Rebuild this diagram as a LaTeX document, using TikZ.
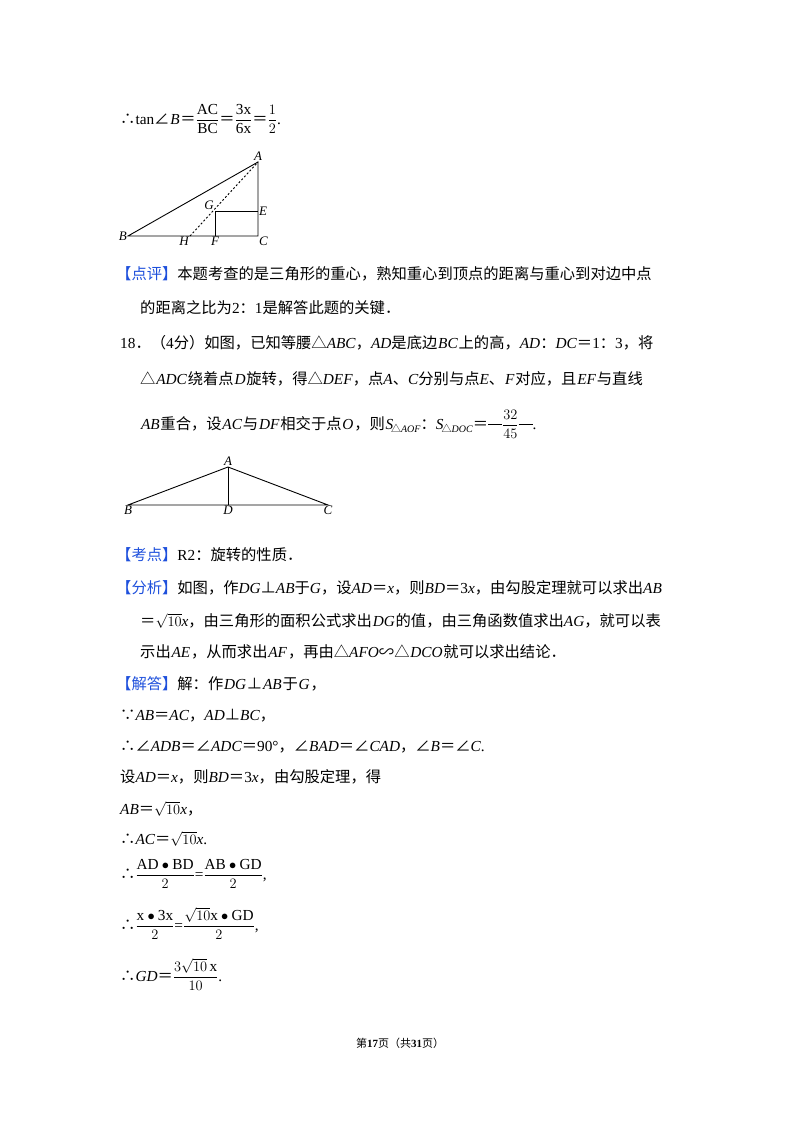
\documentclass[tikz,border=0pt]{standalone}
\usepackage{fontspec}
\setmainfont{Liberation Serif}
\newfontfamily\cjk{Noto Sans CJK SC}
\newcommand\zh[1]{{\cjk #1}}
\newcommand\vi[1]{\hspace{0.8pt}\textit{#1}\hspace{0.8pt}}
\newcommand\eq{{\cjk ＝}}
\newcommand\df[2]{$\displaystyle\frac{#1}{#2}$}
\definecolor{kblue}{RGB}{30,80,220}
\newcommand\tag[1]{{\cjk\color{kblue}【#1】}}
\tikzset{t/.style={anchor=base west,inner sep=0pt,font=\fontsize{15.3}{18}\selectfont},
 lab/.style={inner sep=1pt,font=\fontsize{13}{14}\selectfont\itshape},
 seg/.style={line width=0.9pt}}
\begin{document}
\begin{tikzpicture}[x=1pt,y=-1pt]
\useasboundingbox (0,0) rectangle (800,1132);
\node[t] (l1) at (120,124) {\zh{∴}tan\zh{∠}\vi{B}\eq\df{\mathrm{AC}}{\mathrm{BC}}\eq\df{\mathrm{3x}}{\mathrm{6x}}\eq\df{1}{2}.};
\coordinate (A) at (258,162); \coordinate (B) at (128,236); \coordinate (C) at (258,236);
\coordinate (G) at (215,211); \coordinate (E) at (258,211); \coordinate (F) at (215,236); \coordinate (H) at (190,236);
\draw[seg] (B)--(A)--(C)--cycle;
\draw[seg] (G)--(E); \draw[seg] (G)--(F);
\draw[seg,dash pattern=on 2pt off 2pt] (H)--(A);
\node[lab,above] (nA) at (A) {A}; \node[lab,left] (nB) at (B) {B};
\node[lab,below right] (nC) at (C) {C}; \node[lab,above left] (nG) at (G) {G};
\node[lab,right] (nE) at (E) {E}; \node[lab,below] (nF) at (F) {F}; \node[lab,below left] (nH) at (H) {H};
\node[t] (dp) at (116,279) {\tag{点评}\zh{本题考查的是三角形的重心，熟知重心到顶点的距离与重心到对边中点}};
\node[t] (dp2) at (140,313) {\zh{的距离之比为}2\zh{：}1\zh{是解答此题的关键．}};
\node[t] (q1) at (120,348) {18\zh{．（}4\zh{分）如图，已知等腰△}\textit{ABC}\zh{，}\textit{AD}\zh{是底边}\vi{BC}\zh{上的高，}\textit{AD}\zh{：}\textit{DC}\eq1\zh{：}3\zh{，将}};
\node[t] (q2) at (140,384) {\zh{△}\vi{ADC}\zh{绕着点}\vi{D}\zh{旋转，得△}\textit{DEF}\zh{，点}\textit{A}\zh{、}\textit{C}\zh{分别与点}\textit{E}\zh{、}\vi{F}\zh{对应，且}\vi{EF}\zh{与直线}};
\node[t] (q3) at (140,429) {\vi{AB}\zh{重合，设}\vi{AC}\zh{与}\vi{DF}\zh{相交于点}\vi{O}\zh{，则}\vi{S}\hspace{-3pt}\raisebox{-3pt}{\fontsize{10}{10}\selectfont\zh{△}\textit{AOF}}\zh{：}\textit{S}\hspace{-2pt}\raisebox{-3pt}{\fontsize{10}{10}\selectfont\zh{△}\textit{DOC}}\eq\rule[4pt]{14pt}{0.7pt}\df{32}{45}\rule[4pt]{14pt}{0.7pt}.};
\coordinate (A2) at (228,467); \coordinate (B2) at (128,505); \coordinate (D2) at (228,505); \coordinate (C2) at (328,505);
\draw[seg] (B2)--(A2)--(C2)--cycle; \draw[seg] (A2)--(D2);
\node[lab,above] (nA2) at (A2) {A}; \node[lab,below] (nB2) at (B2) {B};
\node[lab,below] (nD2) at (D2) {D}; \node[lab,below] (nC2) at (C2) {C};
\node[t] (kd) at (116,560) {\tag{考点}R2\zh{：旋转的性质．}};
\node[t] (fx) at (116,593) {\tag{分析}\zh{如图，作}\textit{DG}\zh{⊥}\textit{AB}\zh{于}\textit{G}\zh{，设}\textit{AD}\eq\textit{x}\zh{，则}\textit{BD}\eq3\textit{x}\zh{，由勾股定理就可以求出}\textit{AB}};
\node[t] (fx2) at (140,626) {\eq$\sqrt{10}$\textit{x}\zh{，由三角形的面积公式求出}\vi{DG}\zh{的值，由三角函数值求出}\textit{AG}\zh{，就可以表}};
\node[t] (fx3) at (140,657) {\zh{示出}\vi{AE}\zh{，从而求出}\vi{AF}\zh{，再由△}\textit{AFO}\zh{∽△}\vi{DCO}\zh{就可以求出结论．}};
\node[t] (jd) at (116,689) {\tag{解答}\zh{解：作}\vi{DG}\zh{⊥}\vi{AB}\zh{于}\vi{G}\zh{，}};
\node[t] (s1) at (120,720) {\zh{∵}\textit{AB}\eq\textit{AC}\zh{，}\textit{AD}\zh{⊥}\textit{BC}\zh{，}};
\node[t] (s2) at (120,751) {\zh{∴∠}\textit{ADB}\eq\zh{∠}\textit{ADC}\eq90°\zh{，∠}\textit{BAD}\eq\zh{∠}\textit{CAD}\zh{，∠}\textit{B}\eq\zh{∠}\textit{C}.};
\node[t] (s3) at (120,782) {\zh{设}\textit{AD}\eq\textit{x}\zh{，则}\textit{BD}\eq3\textit{x}\zh{，由勾股定理，得}};
\node[t] (s4) at (120,814) {\textit{AB}\eq$\sqrt{10}$\textit{x}\zh{，}};
\node[t] (s5) at (120,844) {\zh{∴}\textit{AC}\eq$\sqrt{10}$\textit{x}.};
\node[t] (s6) at (120,879) {\zh{∴}\df{\mathrm{AD}\bullet\mathrm{BD}}{2}=\df{\mathrm{AB}\bullet\mathrm{GD}}{2},};
\node[t] (s7) at (120,930) {\zh{∴}\df{\mathrm{x}\bullet\mathrm{3x}}{2}=\df{\sqrt{10}\mathrm{x}\bullet\mathrm{GD}}{2},};
\node[t] (s8) at (120,981) {\zh{∴}\textit{GD}\eq\df{3\sqrt{10}\,\mathrm{x}}{10}.};
\node[anchor=base,inner sep=0pt,font=\fontsize{11}{13}\selectfont] (ft) at (400,1047) {\zh{第}\textbf{17}\zh{页（共}\textbf{31}\zh{页）}};
\end{tikzpicture}
\end{document}
